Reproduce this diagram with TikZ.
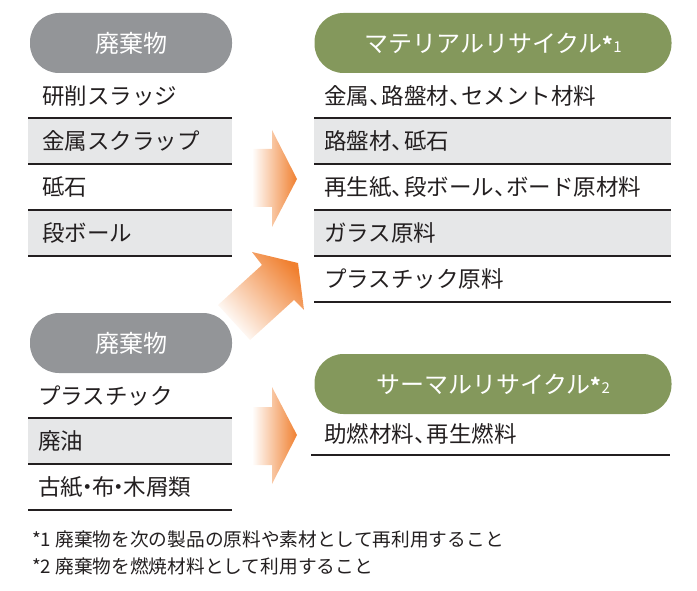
\documentclass[tikz,border=0pt]{standalone}
\usepackage{fontspec}
\setmainfont{Noto Sans CJK JP}
\definecolor{pillgray}{RGB}{147,149,152}
\definecolor{pillgreen}{RGB}{132,152,92}
\definecolor{rowgray}{RGB}{230,231,232}
\definecolor{ink}{RGB}{35,31,32}
\definecolor{arroworange}{RGB}{240,128,48}
\newcommand{\tc}{、\kern-0.45em}
\newcommand{\td}{\kern-0.3em・\kern-0.3em}
\newcommand{\smark}[1]{{\fontsize{20}{22}\selectfont\bfseries *}{\fontsize{15}{18}\selectfont #1}}
\begin{document}
\begin{tikzpicture}[x=1pt,y=-1pt,
  pill/.style={rounded corners=29pt, minimum height=60pt, inner sep=0pt, text=white, font=\fontsize{24}{28}\selectfont},
  pillL/.style={pill, fill=pillgray, minimum width=202pt},
  pillR/.style={pill, fill=pillgreen, minimum width=357pt},
  item/.style={anchor=west, inner sep=0pt, text=ink, font=\fontsize{22.5}{26}\selectfont},
  note/.style={anchor=west, inner sep=0pt, text=ink, font=\fontsize{18.7}{22}\selectfont},
  rowline/.style={draw=ink, line width=1.3pt},
  shaded/.style={fill=rowgray},
  bigarrow/.style={left color=white, right color=arroworange},
  diagarrow/.style={bottom color=white, top color=arroworange, shading angle=-48}
]
\useasboundingbox (0,0) rectangle (697,591);

% arrows
\shade[bigarrow] (252,149) -- (272,149) -- (272,130) -- (297,179) -- (272,227) -- (272,207) -- (252,207) -- cycle;
\shade[bigarrow] (252,407) -- (272,407) -- (272,387) -- (297,435) -- (272,484) -- (272,465) -- (252,465) -- cycle;
\shade[diagarrow] (218,305) -- (262,265) -- (252,252) -- (298,263) -- (304,310) -- (294,300) -- (250,340) -- cycle;

% left group 1
\fill[shaded] (28,118) rectangle (232,164);
\fill[shaded] (28,210) rectangle (232,256);
\foreach \y in {118,164,210,256} \draw[rowline] (28,\y) -- (232,\y);
\node[pillL] (wasteA) at (131,43) {廃棄物};
\node[item] (a1) at (42,96) {研削スラッジ};
\node[item] (a2) at (42,141) {金属スクラップ};
\node[item] (a3) at (42,187) {砥石};
\node[item] (a4) at (42,233) {段ボール};

% left group 2
\fill[shaded] (28,418) rectangle (232,464);
\foreach \y in {418,464,510} \draw[rowline] (28,\y) -- (232,\y);
\node[pillL] (wasteB) at (131,343) {廃棄物};
\node[item] (b1) at (38,396) {プラスチック};
\node[item] (b2) at (38,441) {廃油};
\node[item] (b3) at (38,487) {古紙\td 布\td 木屑類};

% right group 1
\fill[shaded] (314,118) rectangle (671,164);
\fill[shaded] (314,210) rectangle (671,256);
\foreach \y in {118,164,210,256,302} \draw[rowline] (314,\y) -- (671,\y);
\node[pillR] (material) at (493,43) {マテリアルリサイクル\smark{1}};
\node[item] (c1) at (324,96) {金属\tc 路盤材\tc セメント材料};
\node[item] (c2) at (324,141) {路盤材\tc 砥石};
\node[item] (c3) at (324,187) {再生紙\tc 段ボール\tc ボード原材料};
\node[item] (c4) at (324,233) {ガラス原料};
\node[item] (c5) at (324,279) {プラスチック原料};

% right group 2
\draw[rowline] (311,455) -- (670,455);
\node[pillR] (thermal) at (493,384) {サーマルリサイクル\smark{2}};
\node[item] (d1) at (324,434) {助燃材料\tc 再生燃料};

% notes
\node[note] (n1) at (32,539) {*1 廃棄物を次の製品の原料や素材として再利用すること};
\node[note] (n2) at (32,566) {*2 廃棄物を燃焼材料として利用すること};
\end{tikzpicture}
\end{document}
